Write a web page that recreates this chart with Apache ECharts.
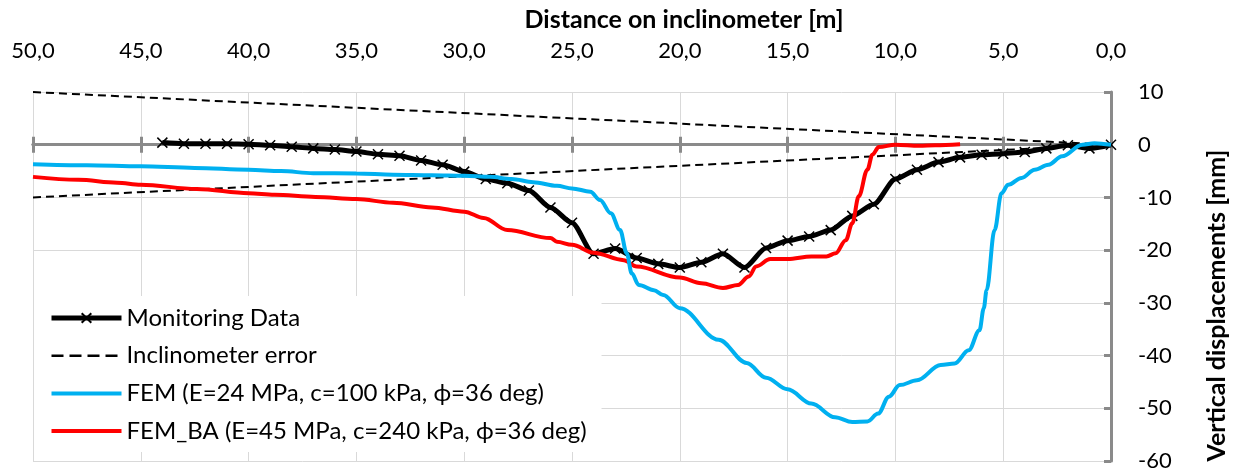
<!DOCTYPE html>
<html>
<head>
<meta charset="utf-8">
<script src="https://cdn.jsdelivr.net/npm/echarts@6/dist/echarts.min.js"></script>
<style>
  html, body { margin: 0; padding: 0; background: #fff; }
  #chart { width: 1237px; height: 475px; }
</style>
</head>
<body>
<div id="chart"></div>
<script>
// Depth along the inclinometer [m] and vertical displacement [mm]
const monitorDepth = [44, 43, 42, 41, 40, 39, 38, 37, 36, 35, 34, 33, 32, 31, 30, 29, 28, 27, 26, 25,
                      24, 23, 22, 21, 20, 19, 18, 17, 16, 15, 14, 13, 12, 11, 10, 9, 8, 7, 6, 5, 4, 3, 2, 1, 0];
const monitorDisp  = [0.4, 0.2, 0.2, 0.2, 0.1, -0.1, -0.4, -0.7, -0.9, -1.3, -1.8, -2.1, -3.0, -3.8, -5.1, -6.5, -7.3, -8.7, -11.9, -14.8,
                      -20.7, -19.7, -21.5, -22.6, -23.3, -22.3, -20.7, -23.3, -19.6, -18.2, -17.4, -16.2, -13.5, -11.3, -6.5, -4.75, -3.3, -2.4, -1.9, -1.7, -1.4, -0.7, -0.1, -0.7, 0];

// Inclinometer error envelope
const errorDepth = [50, 0];
const errorUpper = [10, 0];
const errorLower = [-10, 0];

// FEM (E=24 MPa, c=100 kPa)
const femDepth = [50, 47.5, 45, 42.5, 40, 38.5, 37, 35, 33.3, 31.5, 30, 28.8, 27.8, 26.8, 25.7, 25, 24.15, 23.7, 23.2, 22.77,
                  22.46, 22.23, 21.9, 21.2, 20.77, 20, 18.2, 16.9, 16, 15, 13.9, 12.8, 12, 11.3, 10.8, 10.3, 9.8, 9,
                  7.9, 7.25, 6.6, 6.1, 5.9, 5.77, 5.4, 5.08, 4.77, 4.15, 3.54, 2.9, 2.27, 1.33, 0.77, 0];
const femDisp  = [-3.7, -3.9, -4.1, -4.4, -4.75, -5.0, -5.4, -5.45, -5.7, -5.8, -5.9, -6.1, -6.5, -7.1, -7.8, -8.3, -8.9, -10.5, -13.0, -16.2,
                  -20.6, -24.4, -26.6, -27.6, -28.5, -31.0, -37.0, -41.4, -44.2, -46.4, -49.1, -51.7, -52.6, -52.5, -51.0, -47.8, -45.6, -44.7,
                  -41.8, -41.5, -39.0, -35.2, -31.0, -27.6, -16.2, -9.2, -7.6, -6.3, -4.75, -3.8, -2.2, 0, 0.3, 0];

// FEM_BA (E=45 MPa, c=240 kPa)
const femBaDepth = [50, 47.9, 46.1, 45, 42.4, 40, 38.8, 36.9, 35, 33.3, 31.5, 30, 29.1, 28, 26, 25.7, 25, 24, 22.6, 22,
                    20, 19, 18, 17.3, 16.8, 16.46, 15.8, 15, 13.9, 13.2, 12.77, 12.3, 12, 11.7, 11.3, 11.07, 10.77, 10, 8.9, 8.15, 7];
const femBaDisp  = [-6.1, -6.65, -7.2, -7.6, -8.4, -9.2, -9.5, -9.9, -10.3, -11.0, -11.9, -12.7, -13.9, -16.2, -17.7, -18.4, -19.0, -20.5, -21.9, -23.1,
                    -25.2, -26.3, -27.2, -26.6, -25.0, -23.1, -21.7, -21.7, -21.2, -21.2, -20.6, -18.1, -14.9, -9.8, -4.75, -1.9, -0.45, 0, -0.2, -0.1, 0.1];

const legendNames = ['Monitoring Data', 'Inclinometer error',
                     'FEM (E=24 MPa, c=100 kPa, ϕ=36 deg)', 'FEM_BA (E=45 MPa, c=240 kPa, ϕ=36 deg)'];

const pairs = (xs, ys) => xs.map((x, i) => [x, ys[i]]);

const FONT = 'Lato, "Open Sans", sans-serif';
const AXIS_GREY = '#8a8a8a';
const GRID_GREY = '#d9d9d9';

const chart = echarts.init(document.getElementById('chart'), null, { renderer: 'canvas' });

// x-axis zero line with ticks crossing it (one axis draws ticks down, the other up)
const zeroAxis = (inside) => ({
  type: 'value', min: 0, max: 50, interval: 5, inverse: true, position: 'bottom',
  axisLine: { show: true, onZero: true, onZeroAxisIndex: 0, lineStyle: { color: AXIS_GREY, width: 3 } },
  axisTick: { show: true, inside: inside, length: 8, lineStyle: { color: AXIS_GREY, width: 3 } },
  axisLabel: { show: false },
  splitLine: { show: false }
});

chart.setOption({
  animation: false,
  backgroundColor: '#fff',
  grid: { left: 33, right: 120, top: 92, bottom: 14, containLabel: false },
  xAxis: [
    {
      type: 'value', min: 0, max: 50, interval: 5, inverse: true, position: 'top',
      name: 'Distance on inclinometer [m]',
      nameLocation: 'middle', nameGap: 60,
      nameTextStyle: { fontFamily: FONT, fontSize: 25, fontWeight: 'bold', color: '#000', padding: [0, 0, 0, 224] },
      axisLine: { show: false, onZero: false },
      axisTick: { show: false },
      axisLabel: {
        margin: 30, fontFamily: FONT, fontSize: 22, color: '#000',
        formatter: v => v.toFixed(1).replace('.', ',')
      },
      splitLine: { show: true, lineStyle: { color: GRID_GREY, width: 1 } }
    },
    zeroAxis(false),
    zeroAxis(true)
  ],
  yAxis: {
    type: 'value', min: -60, max: 10, interval: 10, position: 'right',
    name: 'Vertical displacements [mm]',
    nameLocation: 'middle', nameGap: 93,
    nameTextStyle: { fontFamily: FONT, fontSize: 25, fontWeight: 'bold', color: '#000', padding: [0, 58, 0, 0] },
    axisLine: { show: true, onZero: false, lineStyle: { color: AXIS_GREY, width: 3 } },
    axisTick: { show: true, inside: true, length: 7, lineStyle: { color: AXIS_GREY, width: 3 } },
    axisLabel: { margin: 27, fontFamily: FONT, fontSize: 22, color: '#000' },
    splitLine: { show: true, lineStyle: { color: GRID_GREY, width: 1 } }
  },
  legend: {
    data: [
      { name: legendNames[0] },
      { name: legendNames[1], itemStyle: { opacity: 0 }, lineStyle: { type: [12, 6], width: 2.5 } },
      { name: legendNames[2], itemStyle: { opacity: 0 } },
      { name: legendNames[3], itemStyle: { opacity: 0 } }
    ],
    orient: 'vertical',
    left: 34, top: 296,
    padding: [10, 15, 9, 15],
    backgroundColor: '#fff',
    itemWidth: 70, itemHeight: 12, itemGap: 13.7,
    lineStyle: { width: 'inherit' },
    textStyle: { fontFamily: FONT, fontSize: 24, color: '#000', lineHeight: 24 }
  },
  series: [
    {
      name: legendNames[1], type: 'line', z: 1,
      data: pairs(errorDepth, errorUpper),
      symbol: 'none',
      lineStyle: { color: '#000', width: 2, type: [8, 5] },
      itemStyle: { color: '#000' }
    },
    {
      name: legendNames[1], type: 'line', z: 1,
      data: pairs(errorDepth, errorLower),
      symbol: 'none',
      lineStyle: { color: '#000', width: 2, type: [8, 5] },
      itemStyle: { color: '#000' }
    },
    {
      name: legendNames[0], type: 'line', z: 2,
      data: pairs(monitorDepth, monitorDisp),
      smooth: 0.25, smoothMonotone: 'x',
      symbol: 'path://M0,0L10,10M10,0L0,10', symbolSize: 10, showAllSymbol: true,
      lineStyle: { color: '#000', width: 5 },
      itemStyle: { color: '#000', borderColor: '#000', borderWidth: 1.5 }
    },
    {
      name: legendNames[3], type: 'line', z: 3,
      data: pairs(femBaDepth, femBaDisp),
      smooth: 0.35, smoothMonotone: 'x',
      symbol: 'none',
      lineStyle: { color: '#ff0000', width: 4 },
      itemStyle: { color: '#ff0000' }
    },
    {
      name: legendNames[2], type: 'line', z: 4,
      data: pairs(femDepth, femDisp),
      smooth: 0.35, smoothMonotone: 'x',
      symbol: 'none',
      lineStyle: { color: '#00b0f0', width: 4 },
      itemStyle: { color: '#00b0f0' }
    }
  ]
});
</script>
</body>
</html>
